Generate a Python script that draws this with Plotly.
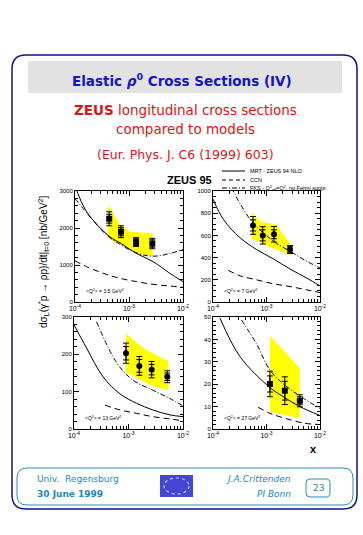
import plotly.graph_objects as go

W, H = 363, 535

# ---------------- data ----------------
q2_labels = ["3.5", "7", "13", "27"]

# measured points
x_data1 = [4.3e-4, 7.1e-4, 1.35e-3, 2.7e-3]
y_data1 = [2250, 1900, 1620, 1580]
stat1 = [120, 110, 90, 100]
tot1 = [190, 160, 120, 140]

x_data2 = [5.6e-4, 8.5e-4, 1.38e-3, 2.75e-3]
y_data2 = [690, 600, 610, 473]
stat2 = [50, 50, 40, 25]
tot2 = [80, 78, 70, 36]

x_data3 = [9.0e-4, 1.58e-3, 2.66e-3, 5.15e-3]
y_data3 = [203, 169, 159, 140]
stat3 = [18, 17, 14, 10]
tot3 = [27, 25, 22, 16]

x_data4 = [1.16e-3, 2.2e-3, 4.2e-3]
y_data4 = [20.1, 17.1, 12.6]
stat4 = [3.6, 4.2, 1.8]
tot4 = [5.7, 6.2, 2.7]

# yellow uncertainty bands (upper / lower edges)
band1_xu = [4.1e-4, 6.8e-4, 1.04e-3, 2.75e-3]
band1_yu = [2620, 2080, 1900, 1860]
band1_xl = [4.1e-4, 5.1e-4, 9.1e-4, 1.39e-3, 2.75e-3]
band1_yl = [1770, 1630, 1510, 1320, 1240]

band2_xu = [5.3e-4, 8.0e-4, 1.5e-3, 2.0e-3, 2.75e-3]
band2_yu = [810, 720, 700, 620, 530]
band2_xl = [5.3e-4, 8.0e-4, 1.08e-3, 2.0e-3, 2.75e-3]
band2_yl = [565, 540, 497, 450, 418]

band3_xu = [9.0e-4, 1.3e-3, 2.0e-3, 3.5e-3, 5.4e-3]
band3_yu = [256, 235, 215, 195, 182]
band3_xl = [9.0e-4, 1.5e-3, 2.5e-3, 5.4e-3]
band3_yl = [153, 135, 118, 103]

band4_xu = [1.16e-3, 2.15e-3, 4.2e-3]
band4_yu = [41.5, 34.8, 27.0]
band4_xl = [1.16e-3, 4.2e-3]
band4_yl = [7.7, 4.8]

# model curves: MRT-ZEUS 94 NLO (solid), CCN (dashed), FKS (dash-dot)
mrt1_x = [1e-4, 1.64e-4, 4.4e-4, 6.8e-4, 1.39e-3, 2.8e-3, 5.7e-3, 1e-2]
mrt1_y = [3150, 2440, 1765, 1600, 1310, 1090, 775, 550]
fks1_x = [1e-4, 1.9e-4, 3.85e-4, 6.8e-4, 1.05e-3, 1.85e-3, 3.1e-3, 5.7e-3, 1e-2]
fks1_y = [2800, 2300, 1810, 1560, 1400, 1270, 1240, 1310, 1420]
ccn1_x = [1e-4, 1.64e-4, 3.35e-4, 6.8e-4, 1.39e-3, 2.8e-3, 5.7e-3, 1e-2]
ccn1_y = [1115, 955, 775, 640, 550, 477, 432, 396]

mrt2_x = [1e-4, 1.56e-4, 3.2e-4, 6.5e-4, 1.35e-3, 2.75e-3, 5.7e-3, 1e-2]
mrt2_y = [927, 745, 579, 473, 388, 297, 215, 145]
fks2_x = [2.2e-4, 3.7e-4, 5.5e-4, 9.4e-4, 1.55e-3, 2.75e-3, 5.7e-3, 1e-2]
fks2_y = [1030, 836, 715, 609, 527, 457, 366, 306]
ccn2_x = [1.93e-4, 3.2e-4, 6.5e-4, 1.35e-3, 2.75e-3, 5.7e-3, 1e-2]
ccn2_y = [285, 236, 200, 164, 139, 109, 85]

mrt3_x = [1e-4, 1.7e-4, 3.4e-4, 7e-4, 1.4e-3, 2.8e-3, 5.7e-3, 1e-2]
mrt3_y = [279, 217, 140, 94, 69, 51, 38, 33]
fks3_x = [2.6e-4, 6.1e-4, 1.2e-3, 2.8e-3, 5.7e-3, 1e-2]
fks3_y = [287, 177, 131, 104, 82, 62]
ccn3_x = [3.7e-4, 7e-4, 1.4e-3, 2.8e-3, 5.7e-3, 1e-2]
ccn3_y = [64, 51, 42, 33, 27, 22]

mrt4_x = [1.35e-4, 3.2e-4, 1.16e-3, 2.2e-3, 4.2e-3, 1e-2]
mrt4_y = [49.5, 32.3, 18.5, 14.0, 10.0, 6.0]
fks4_x = [3.4e-4, 6.5e-4, 1.16e-3, 2.2e-3, 4.9e-3, 1e-2]
fks4_y = [48.7, 38.0, 26.3, 19.6, 13.7, 9.2]
ccn4_x = [7e-4, 1.16e-3, 2.2e-3, 5e-3, 1e-2]
ccn4_y = [9.7, 7.0, 4.8, 2.6, 2.0]

y_ranges = [[0, 3000], [0, 1000], [0, 300], [0, 50]]
y_dticks = [1000, 200, 100, 10]
y_minor = [200, 50, 20, 2]
x_tickvals = [1e-4, 1e-3, 1e-2]
x_ticktext = ["10<sup>-4</sup>", "10<sup>-3</sup>", "10<sup>-2</sup>"]
markers = ["square", "circle", "circle", "square"]

# ---------------- helpers ----------------
def PX(x):
    return x / W

def PY(y):
    return 1 - y / H

def rrect(x0, y0, x1, y1, r):
    P = lambda x, y: f"{PX(x):.5f},{PY(y):.5f}"
    return (f"M {P(x0+r, y0)} L {P(x1-r, y0)} Q {P(x1, y0)} {P(x1, y0+r)} "
            f"L {P(x1, y1-r)} Q {P(x1, y1)} {P(x1-r, y1)} L {P(x0+r, y1)} "
            f"Q {P(x0, y1)} {P(x0, y1-r)} L {P(x0, y0+r)} Q {P(x0, y0)} {P(x0+r, y0)} Z")

# panel pixel boxes (x0, x1, ytop, ybottom)
boxes = [(75, 183, 191, 302), (213, 320, 191, 302), (74, 183, 317, 429), (213, 320, 317, 429)]

panels = [
    (x_data1, y_data1, stat1, tot1, band1_xu, band1_yu, band1_xl, band1_yl,
     mrt1_x, mrt1_y, ccn1_x, ccn1_y, fks1_x, fks1_y),
    (x_data2, y_data2, stat2, tot2, band2_xu, band2_yu, band2_xl, band2_yl,
     mrt2_x, mrt2_y, ccn2_x, ccn2_y, fks2_x, fks2_y),
    (x_data3, y_data3, stat3, tot3, band3_xu, band3_yu, band3_xl, band3_yl,
     mrt3_x, mrt3_y, ccn3_x, ccn3_y, fks3_x, fks3_y),
    (x_data4, y_data4, stat4, tot4, band4_xu, band4_yu, band4_xl, band4_yl,
     mrt4_x, mrt4_y, ccn4_x, ccn4_y, fks4_x, fks4_y),
]

fig = go.Figure()
minor_x = [k * 10 ** e for e in (-4, -3) for k in range(2, 10)]

for i, p in enumerate(panels):
    (xd, yd, st, tt, bxu, byu, bxl, byl, mx, my, cx, cy, fx, fy) = p
    n = "" if i == 0 else str(i + 1)
    xa, ya = "x" + n, "y" + n
    fig.add_trace(go.Scatter(x=bxu + bxl[::-1], y=byu + byl[::-1], mode="lines",
                             fill="toself", fillcolor="#ffff00", line=dict(width=0, color="#ffff00"),
                             hoverinfo="skip", showlegend=False, xaxis=xa, yaxis=ya))
    fig.add_trace(go.Scatter(x=mx, y=my, mode="lines", line=dict(color="black", width=1, shape="spline"),
                             showlegend=False, xaxis=xa, yaxis=ya))
    fig.add_trace(go.Scatter(x=cx, y=cy, mode="lines",
                             line=dict(color="black", width=1, dash="6px,4px", shape="spline"),
                             showlegend=False, xaxis=xa, yaxis=ya))
    fig.add_trace(go.Scatter(x=fx, y=fy, mode="lines",
                             line=dict(color="black", width=1, dash="5px,2px,1px,2px", shape="spline"),
                             showlegend=False, xaxis=xa, yaxis=ya))
    fig.add_trace(go.Scatter(x=xd, y=yd, mode="markers", marker=dict(size=0.1, color="black", opacity=0),
                             error_y=dict(type="data", array=tt, color="black", thickness=1, width=3),
                             showlegend=False, xaxis=xa, yaxis=ya))
    fig.add_trace(go.Scatter(x=xd, y=yd, mode="markers",
                             marker=dict(size=6, color="black", symbol=markers[i]),
                             error_y=dict(type="data", array=st, color="black", thickness=1, width=3),
                             showlegend=False, xaxis=xa, yaxis=ya))
    x0, x1, yt, yb = boxes[i]
    axcommon = dict(showline=True, linecolor="black", linewidth=1, mirror="allticks",
                    ticks="inside", ticklen=5, tickcolor="black", showgrid=False, zeroline=False)
    fig.layout["xaxis" + n] = dict(type="log", range=[-4, -2], domain=[PX(x0), PX(x1)],
                                   anchor=ya, tickmode="array", tickvals=x_tickvals,
                                   ticktext=x_ticktext,
                                   tickfont=dict(family="Liberation Sans", size=7, color="black"),
                                   minor=dict(tickmode="array", tickvals=minor_x, ticks="inside",
                                              ticklen=3, tickcolor="black"),
                                   **axcommon)
    fig.layout["yaxis" + n] = dict(range=y_ranges[i], domain=[PY(yb), PY(yt)], anchor=xa,
                                   dtick=y_dticks[i], tick0=0,
                                   tickfont=dict(family="Liberation Sans", size=6, color="black"),
                                   minor=dict(dtick=y_minor[i], ticks="inside", ticklen=3,
                                              tickcolor="black"),
                                   **axcommon)
    fig.add_annotation(text=f"&lt;Q<sup>2</sup>&gt; = {q2_labels[i]} GeV<sup>2</sup>",
                       x=PX(x0 + 9), y=PY(yb - 11), xref="paper", yref="paper",
                       xanchor="left", yanchor="middle", showarrow=False,
                       font=dict(family="Liberation Sans", size=5, color="black"))

shapes = []
shapes.append(dict(type="path", path=rrect(12, 55, 357, 509, 14), xref="paper", yref="paper",
                   line=dict(color="#10108a", width=1.5), layer="below"))
shapes.append(dict(type="rect", x0=PX(28), x1=PX(342), y0=PY(93), y1=PY(61), xref="paper",
                   yref="paper", fillcolor="#e2e2e2", line=dict(width=0), layer="below"))
shapes.append(dict(type="path", path=rrect(17, 468, 353, 505, 10), xref="paper", yref="paper",
                   line=dict(color="#2a8cb4", width=1)))
shapes.append(dict(type="path", path=rrect(306, 479, 330, 497, 4), xref="paper", yref="paper",
                   line=dict(color="#2a8cb4", width=1)))
shapes.append(dict(type="rect", x0=PX(160), x1=PX(193), y0=PY(497), y1=PY(475), xref="paper",
                   yref="paper", fillcolor="#4646d2", line=dict(width=0)))
shapes.append(dict(type="circle", x0=PX(164), x1=PX(189), y0=PY(494), y1=PY(478), xref="paper",
                   yref="paper", line=dict(color="#c8c8ff", width=1.2, dash="dot")))
leg_y = [171, 180, 188]
leg_dash = ["solid", "4px,3px", "5px,2px,1px,2px"]
leg_text = ["MRT - ZEUS 94 NLO", "CCN", "FKS - Q<sup>2</sup><sub>eff</sub>=Q<sup>2</sup>, no Fermi suppr."]
for ly, ld, lt in zip(leg_y, leg_dash, leg_text):
    shapes.append(dict(type="line", x0=PX(222), x1=PX(245), y0=PY(ly), y1=PY(ly), xref="paper",
                       yref="paper", line=dict(color="black", width=1, dash=ld)))
    fig.add_annotation(text=lt, x=PX(248), y=PY(ly), xref="paper", yref="paper", xanchor="left",
                       yanchor="middle", showarrow=False,
                       font=dict(family="Liberation Sans", size=5.5, color="black"))
fig.update_layout(shapes=shapes)

def ann(text, x, y, size, color, xanchor="center", family="DejaVu Sans", angle=0):
    fig.add_annotation(text=text, x=PX(x), y=PY(y), xref="paper", yref="paper", xanchor=xanchor,
                       yanchor="middle", showarrow=False, textangle=angle,
                       font=dict(family=family, size=size, color=color))

ann("<b>Elastic <i>ρ</i><sup>0</sup> Cross Sections (IV)</b>", 182, 80, 13.5, "#1414c8")
ann("<b>ZEUS</b> longitudinal cross sections", 185, 110, 13.5, "#dc1414")
ann("compared to models", 185, 129, 13.5, "#dc1414")
ann("(Eur. Phys. J. C6 (1999) 603)", 186, 155, 12.5, "#dc1414")
ann("<b>ZEUS 95</b>", 190, 180, 11, "black", family="Liberation Sans")
ann("dσ<sub>L</sub>(γ<sup>*</sup>p → ρp)/dt|<sub>t=0</sub> [nb/GeV<sup>2</sup>]", 43, 262, 10, "black",
    family="Liberation Sans", angle=-90)
ann("<b>x</b>", 313, 449, 11, "black", family="Liberation Sans")
ann("Univ.  Regensburg", 35, 479, 9, "#1a8ab4", xanchor="left")
ann("<b>30 June 1999</b>", 35, 494, 9, "#1a8ab4", xanchor="left")
ann("<i>J.A.Crittenden</i>", 293, 479, 9, "#1a8ab4", xanchor="right")
ann("<i>PI Bonn</i>", 293, 494, 9, "#1a8ab4", xanchor="right")
ann("23", 318, 488, 9, "#1a8ab4")

fig.update_layout(width=W, height=H, margin=dict(l=0, r=0, t=0, b=0, pad=0, autoexpand=False),
                  autosize=False, paper_bgcolor="white", plot_bgcolor="white", showlegend=False)
fig.write_html("out.html", config={"displayModeBar": False},
               post_script="document.documentElement.style.margin='0';document.body.style.margin='0';"
                           "document.body.style.padding='0';document.body.style.overflow='hidden';")
